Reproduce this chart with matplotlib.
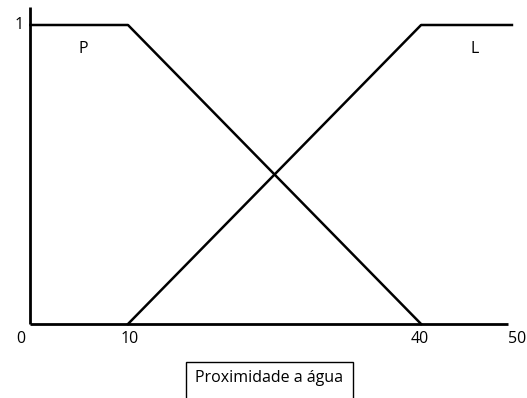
import matplotlib
matplotlib.use("Agg")
import matplotlib.pyplot as plt
from matplotlib.patches import Rectangle

# Data
p_x = [0, 10, 40]
p_y = [1, 1, 0]
l_x = [10, 40, 49.3]
l_y = [0, 1, 1]
xticks = [0, 10, 40, 50]
xlabel = "Proximidade a água"
labels = [("P", 5.4, 0.92), ("L", 45.5, 0.92)]

fig = plt.figure(figsize=(5.27, 3.98), dpi=100)
ax = fig.add_axes([0, 0, 1, 1])
ax.set_xlim(-3.1, 50.84)
ax.set_ylim(-0.2475, 1.0836)
ax.axis("off")

font = "Open Sans"
fs = 11.5
# axes lines
ax.plot([0, 0], [0, 1.06], color="black", lw=2.0, solid_capstyle="butt")
ax.plot([0, 48.9], [0, 0], color="black", lw=2.0, solid_capstyle="butt")

ax.plot(p_x, p_y, color="black", lw=1.8)
ax.plot(l_x, l_y, color="black", lw=1.8)

for t in xticks:
    xpos = {0: -0.95, 10: 10.2, 40: 39.9, 50: 49.8}[t]
    ax.text(xpos, -0.05, str(t), ha="center", va="center", fontsize=fs, family=font)
ax.text(-1.1, 1.0, "1", ha="center", va="center", fontsize=fs, family=font)

for s, x, y in labels:
    ax.text(x, y, s, ha="center", va="center", fontsize=fs, family=font)

ax.add_patch(Rectangle((15.94, -0.3), 33.03 - 15.94, 0.3 - 0.127,
                       fc="white", ec="black", lw=1.0))
ax.text(24.45, -0.18, xlabel, ha="center", va="center", fontsize=fs, family=font)

fig.savefig("out.png", dpi=100)
